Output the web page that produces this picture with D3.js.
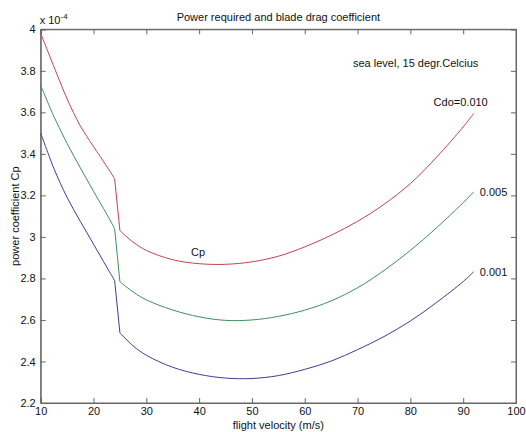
<!DOCTYPE html>
<html>
<head>
<meta charset="utf-8">
<script src="https://cdn.jsdelivr.net/npm/d3@7"></script>
<style>
  body { margin: 0; background: #fff; }
  svg text { font-family: "Liberation Sans", Arial, sans-serif; fill: #111; }
  .axis path, .axis line { stroke: #666; }
  .axis text { font-size: 11px; }
</style>
</head>
<body>
<div class="chart"></div>
<script>
/////////////////
// Data, Cp in units of 1e-4
/////////////////
var velocity = [10, 12.5, 15, 17.5, 20, 22.5, 24, 25, 27.5, 30, 35, 40, 45, 50, 55, 60, 65, 70, 75, 80, 85, 90, 92]

var cp010 = [3.98, 3.82, 3.665, 3.535, 3.435, 3.34, 3.28, 3.03, 2.975, 2.935, 2.89, 2.871, 2.868, 2.88, 2.907, 2.952, 3.008, 3.075, 3.157, 3.257, 3.385, 3.53, 3.595]
var cp005 = [3.73, 3.58, 3.45, 3.333, 3.22, 3.11, 3.04, 2.784, 2.735, 2.697, 2.648, 2.615, 2.598, 2.60, 2.617, 2.647, 2.692, 2.755, 2.838, 2.935, 3.045, 3.165, 3.217]
var cp001 = [3.50, 3.33, 3.19, 3.075, 2.965, 2.855, 2.79, 2.538, 2.475, 2.43, 2.372, 2.338, 2.32, 2.318, 2.332, 2.362, 2.402, 2.457, 2.52, 2.595, 2.685, 2.785, 2.832]

// the curves jump between these two velocities
var jumpFrom = 24, jumpTo = 25

var seriesNames = ['Cdo=0.010', '0.005', '0.001']
var seriesColors = ['#c4434f', '#3f8f5e', '#3d3d98']

var xTicks = [10, 20, 30, 40, 50, 60, 70, 80, 90, 100]
var yTicks = [2.2, 2.4, 2.6, 2.8, 3, 3.2, 3.4, 3.6, 3.8, 4]

/////////////////
// Chart setup
/////////////////
var w = 526, h = 432
var pLeft = 40.7, pRight = 516, pTop = 29.3, pBottom = 403

var svg = d3.select('div.chart').append('svg')
  .attr('width', w)
  .attr('height', h)

var x = d3.scaleLinear().domain([10, 100]).range([pLeft, pRight])
var y = d3.scaleLinear().domain([2.2, 4]).range([pBottom, pTop])

// plot box
svg.append('rect')
  .attr('x', pLeft).attr('y', pTop)
  .attr('width', pRight - pLeft).attr('height', pBottom - pTop)
  .attr('fill', 'none').attr('stroke', '#666')

// axes, ticks pointing inward like matlab
svg.append('g').attr('class', 'axis')
  .attr('transform', `translate(0,${pBottom})`)
  .call(d3.axisBottom(x).tickValues(xTicks).tickSize(-5).tickPadding(4).tickFormat(d3.format('d')))

svg.append('g').attr('class', 'axis')
  .attr('transform', `translate(0,${pTop})`)
  .call(d3.axisTop(x).tickValues(xTicks).tickSize(-5).tickFormat(''))

svg.append('g').attr('class', 'axis')
  .attr('transform', `translate(${pLeft},0)`)
  .call(d3.axisLeft(y).tickValues(yTicks).tickSize(-5).tickPadding(5).tickFormat(d3.format('~g')))

svg.append('g').attr('class', 'axis')
  .attr('transform', `translate(${pRight},0)`)
  .call(d3.axisRight(y).tickValues(yTicks).tickSize(-5).tickFormat(''))

/////////////////
// Curves
/////////////////
var line = d3.line()
  .x(d => x(d[0]))
  .y(d => y(d[1]))
  .curve(d3.curveCatmullRom.alpha(0.5))

// smooth piece before the jump, straight drop, smooth piece after
function cpPath(s) {
  var pts = velocity.map((v, i) => [v, s[i]])
  var before = pts.filter(p => p[0] <= jumpFrom)
  var after = pts.filter(p => p[0] >= jumpTo)
  return line(before) + line(after).replace(/^M/, 'L')
}

var allSeries = [cp010, cp005, cp001]

svg.selectAll('path.cp')
  .data(allSeries)
  .enter()
  .append('path')
  .attr('class', 'cp')
  .attr('d', cpPath)
  .attr('fill', 'none')
  .attr('stroke', (d, i) => seriesColors[i])
  .attr('stroke-width', 1)

// series labels at the end of each curve
var lastV = velocity[velocity.length - 1]
svg.selectAll('text.slabel')
  .data(allSeries)
  .enter()
  .append('text')
  .attr('class', 'slabel')
  .attr('x', (d, i) => i == 0 ? x(lastV) + 14 : x(lastV) + 6)
  .attr('y', (d, i) => i == 0 ? y(d[d.length - 1]) - 7 : y(d[d.length - 1]) + 4.5)
  .attr('text-anchor', (d, i) => i == 0 ? 'end' : 'start')
  .attr('font-size', '11px')
  .text((d, i) => seriesNames[i])

/////////////////
// Text
/////////////////
svg.append('text')
  .attr('x', (pLeft + pRight) / 2).attr('y', 21)
  .attr('text-anchor', 'middle').attr('font-size', '11px')
  .text('Power required and blade drag coefficient')

var exp = svg.append('text')
  .attr('x', pLeft - 1).attr('y', 24)
  .attr('font-size', '11px')
exp.append('tspan').text('x 10')
exp.append('tspan').attr('dy', -5).attr('font-size', '8px').text('-4')

svg.append('text')
  .attr('x', 353).attr('y', 67)
  .attr('font-size', '11px')
  .text('sea level, 15 degr.Celcius')

svg.append('text')
  .attr('x', 198).attr('y', 256)
  .attr('text-anchor', 'middle').attr('font-size', '11px')
  .text('Cp')

svg.append('text')
  .attr('x', (pLeft + pRight) / 2).attr('y', 429)
  .attr('text-anchor', 'middle').attr('font-size', '11px')
  .text('flight velocity (m/s)')

svg.append('text')
  .attr('transform', `translate(19,${(pTop + pBottom) / 2}) rotate(-90)`)
  .attr('text-anchor', 'middle').attr('font-size', '11px')
  .text('power coefficient Cp')
</script>
</body>
</html>
